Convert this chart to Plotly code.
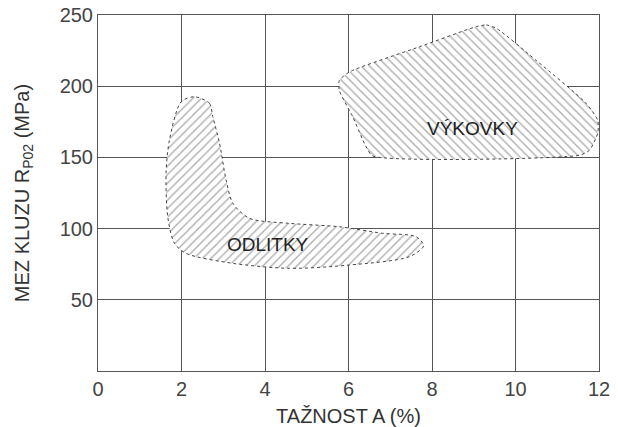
import plotly.graph_objects as go

# outline of the cast (ODLITKY) region, clockwise from the top
odlitky_x = [2.31, 2.67, 2.75, 2.91, 3.07, 3.23, 3.63, 4.59, 5.78, 6.82, 7.62, 7.80,
             7.46, 6.02, 4.59, 3.23, 2.11, 1.83, 1.67, 1.63, 1.71, 1.99, 2.31]
odlitky_y = [192.6, 188.0, 178.6, 160.0, 134.0, 117.8, 107.2, 103.7, 101.3, 96.7, 94.3, 88.0,
             80.3, 74.4, 72.1, 75.6, 82.6, 89.7, 108.4, 138.8, 162.0, 189.0, 192.6]

# outline of the forged (VÝKOVKY) region, clockwise from the top
vykovky_x = [9.06, 9.30, 9.54, 10.50, 11.69, 11.97, 11.97, 11.77, 11.53,
             6.58, 6.42, 6.10, 5.78, 5.78, 6.02, 7.70, 9.06]
vykovky_y = [241.8, 243.0, 240.7, 218.0, 188.0, 176.0, 167.0, 155.0, 151.5,
             151.0, 157.5, 178.6, 197.0, 204.0, 210.0, 227.7, 241.8]

x_ticks = [0, 2, 4, 6, 8, 10, 12]
y_ticks = [50, 100, 150, 200, 250]

font_name = "Liberation Sans, Arial, sans-serif"

fig = go.Figure()

fig.add_trace(go.Scatter(
    x=odlitky_x, y=odlitky_y, mode="lines", fill="toself",
    line=dict(color="#444", width=1, dash="dot", shape="spline", smoothing=0.8),
    fillcolor="white",
    fillpattern=dict(shape="/", fgcolor="#555", bgcolor="white", size=6, solidity=0.22),
    hoverinfo="skip", showlegend=False,
))
fig.add_trace(go.Scatter(
    x=vykovky_x, y=vykovky_y, mode="lines", fill="toself",
    line=dict(color="#444", width=1, dash="dot", shape="spline", smoothing=0.6),
    fillcolor="white",
    fillpattern=dict(shape="\\", fgcolor="#555", bgcolor="white", size=6, solidity=0.22),
    hoverinfo="skip", showlegend=False,
))

fig.add_annotation(x=4.07, y=89, text="ODLITKY", showarrow=False,
                   font=dict(size=19, color="#222", family=font_name))
fig.add_annotation(x=8.98, y=170.4, text="VÝKOVKY", showarrow=False,
                   font=dict(size=19, color="#222", family=font_name))

fig.update_xaxes(
    range=[0, 12], tickvals=x_ticks, showgrid=True, gridcolor="#555", gridwidth=1,
    showline=True, linecolor="#555", linewidth=1, mirror=True, zeroline=False,
    ticks="", tickfont=dict(size=20, color="#444"), ticklabeloverflow="allow",
    title=dict(text="TAŽNOST A (%)", font=dict(size=20, color="#333")),
)
fig.update_yaxes(
    range=[0, 250], tickvals=y_ticks, showgrid=True, gridcolor="#555", gridwidth=1,
    showline=True, linecolor="#555", linewidth=1, mirror=True, zeroline=False,
    ticks="", tickfont=dict(size=20, color="#444"), ticklabeloverflow="allow",
    title=dict(text="MEZ KLUZU R<sub>P02</sub> (MPa)", font=dict(size=20, color="#333"), standoff=24),
)

# the page body adds an 8px margin, so the figure is sized to fit what is left
fig.update_layout(
    width=610, height=419,
    margin=dict(l=90, r=19, t=7, b=56, autoexpand=False),
    plot_bgcolor="white", paper_bgcolor="white",
    font=dict(family=font_name, color="#333"),
)

fig.write_html("out.html")
